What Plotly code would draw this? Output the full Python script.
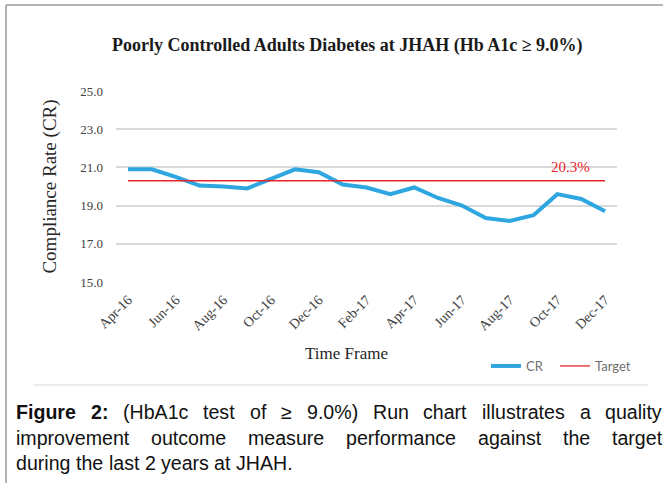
import plotly.graph_objects as go

months = ["Apr-16", "May-16", "Jun-16", "Jul-16", "Aug-16", "Sep-16", "Oct-16",
          "Nov-16", "Dec-16", "Jan-17", "Feb-17", "Mar-17", "Apr-17", "May-17",
          "Jun-17", "Jul-17", "Aug-17", "Sep-17", "Oct-17", "Nov-17", "Dec-17"]
cr_values = [20.9, 20.9, 20.5, 20.05, 20.0, 19.9, 20.4, 20.9, 20.75, 20.1, 19.95,
             19.6, 19.95, 19.4, 19.0, 18.35, 18.2, 18.5, 19.6, 19.35, 18.7]
target_value = 20.3
target_values = [target_value] * len(months)
tick_labels = months[::2]
y_ticks = [15, 17, 19, 21, 23, 25]

W, H = 663, 483
L, R, T, B = 116, 46, 91, 201
pw, ph = W - L - R, H - T - B


def px(x):
    return (x - L) / pw


def py(y):
    return (H - B - y) / ph


serif = "Liberation Serif"

fig = go.Figure()
fig.add_trace(go.Scatter(x=months, y=cr_values, mode="lines", name="CR",
                         line=dict(color="#2EA6DF", width=4), legend="legend"))
fig.add_trace(go.Scatter(x=months, y=target_values, mode="lines", name="Target",
                         line=dict(color="#E8232B", width=1.3), legend="legend2"))

leg_font = dict(family="Lato", size=13, color="#6f6f6f")
fig.update_layout(
    width=W, height=H,
    margin=dict(l=L, r=R, t=T, b=B),
    paper_bgcolor="white", plot_bgcolor="white",
    showlegend=True,
    legend=dict(orientation="h", x=px(486), y=py(366), xanchor="left", yanchor="middle",
                font=leg_font, itemwidth=30, bgcolor="rgba(0,0,0,0)"),
    legend2=dict(orientation="h", x=px(555), y=py(366), xanchor="left", yanchor="middle",
                 font=leg_font, itemwidth=30, bgcolor="rgba(0,0,0,0)"),
    xaxis=dict(type="category", categoryorder="array", categoryarray=months,
               range=[-0.5, len(months) - 0.5],
               tickmode="array", tickvals=tick_labels, ticktext=tick_labels,
               tickangle=-45, tickfont=dict(family=serif, size=14, color="#404040"),
               ticklabelstandoff=6,
               showgrid=False, showline=False, ticks="", zeroline=False),
    yaxis=dict(range=[15, 25], tickmode="array", tickvals=y_ticks,
               ticktext=[f"{v:.1f}" for v in y_ticks],
               tickfont=dict(family=serif, size=13, color="#404040"),
               ticklabelstandoff=12,
               showgrid=True, gridcolor="#D9D9D9", gridwidth=1.5,
               showline=False, zeroline=False, ticks="",
               title=dict(text="Compliance Rate (CR)",
                          font=dict(family=serif, size=19, color="#262626"),
                          standoff=18)),
)

annotations = [
    dict(text="<b>Poorly Controlled Adults Diabetes at JHAH (Hb A1c \u2265 9.0%)</b>",
         xref="paper", yref="paper", x=px(347), y=py(45), xanchor="center", yanchor="middle",
         showarrow=False, font=dict(family=serif, size=18, color="#1a1a1a")),
    dict(text="Time Frame", xref="paper", yref="paper", x=px(346), y=py(353),
         xanchor="center", yanchor="middle", showarrow=False,
         font=dict(family=serif, size=17, color="#262626")),
    dict(text=f"{target_value:.1f}%", xref="x", yref="y", x=18.55, y=target_value,
         yshift=14, xanchor="center", yanchor="middle", showarrow=False,
         font=dict(family=serif, size=15, color="#E8232B")),
]

# Justified caption (Arial / Liberation Sans metrics, per 1000 em)
REG = {" ": 278, "(": 333, ")": 333, "%": 889, ".": 278, ":": 278, "-": 333, "\u2265": 549}
for ch in "0123456789":
    REG[ch] = 556
REG.update(dict(zip("ABCDEFGHIJKLMNOPQRSTUVWXYZ",
                    [667, 667, 722, 722, 667, 611, 778, 722, 278, 500, 667, 556, 833, 722, 778,
                     667, 778, 722, 667, 611, 722, 667, 944, 667, 667, 611])))
REG.update(dict(zip("abcdefghijklmnopqrstuvwxyz",
                    [556, 556, 500, 556, 556, 278, 556, 556, 222, 222, 500, 222, 833, 556, 556,
                     556, 556, 333, 500, 278, 556, 500, 722, 500, 500, 500])))
BOLD = {"F": 611, "i": 278, "g": 611, "u": 611, "r": 389, "e": 556, "2": 556, ":": 333}

cap_size = 19.6
cap_font = dict(family="Liberation Sans", size=cap_size, color="#111111")


def word_w(word, bold):
    tbl = BOLD if bold else REG
    return sum(tbl.get(c, 556) for c in word) * cap_size / 1000.0


caption_lines = [
    ([("Figure", True), ("2:", True)] +
     [(w, False) for w in "(HbA1c test of \u2265 9.0%) Run chart illustrates a quality".split()], True),
    ([(w, False) for w in "improvement outcome measure performance against the target".split()], True),
    ([(w, False) for w in "during the last 2 years at JHAH.".split()], False),
]
x_left, x_right = 14, 660
for i, (words, justify) in enumerate(caption_lines):
    widths = [word_w(w, b) for w, b in words]
    if justify:
        gap = (x_right - x_left - sum(widths)) / (len(words) - 1)
    else:
        gap = REG[" "] * cap_size / 1000.0
    xcur = x_left
    for (w, b), ww in zip(words, widths):
        annotations.append(dict(text=f"<b>{w}</b>" if b else w, xref="paper", yref="paper",
                                x=px(xcur), y=py(412 + 25.5 * i), xanchor="left", yanchor="middle",
                                showarrow=False, font=cap_font))
        xcur += ww + gap
fig.update_layout(annotations=annotations)

shapes = [
    dict(type="line", xref="paper", yref="paper", x0=px(6), x1=px(663), y0=py(5), y1=py(5),
         line=dict(color="#9a9a9a", width=1.5)),
    dict(type="line", xref="paper", yref="paper", x0=px(6), x1=px(6), y0=py(5), y1=py(483),
         line=dict(color="#9a9a9a", width=1.5)),
    dict(type="line", xref="paper", yref="paper", x0=px(33), x1=px(648), y0=py(385), y1=py(385),
         line=dict(color="#D9D9D9", width=1.2)),
]
fig.update_layout(shapes=shapes)

fig.write_html("out.html", config={"displayModeBar": False},
               post_script="document.body.style.margin='0px';")
